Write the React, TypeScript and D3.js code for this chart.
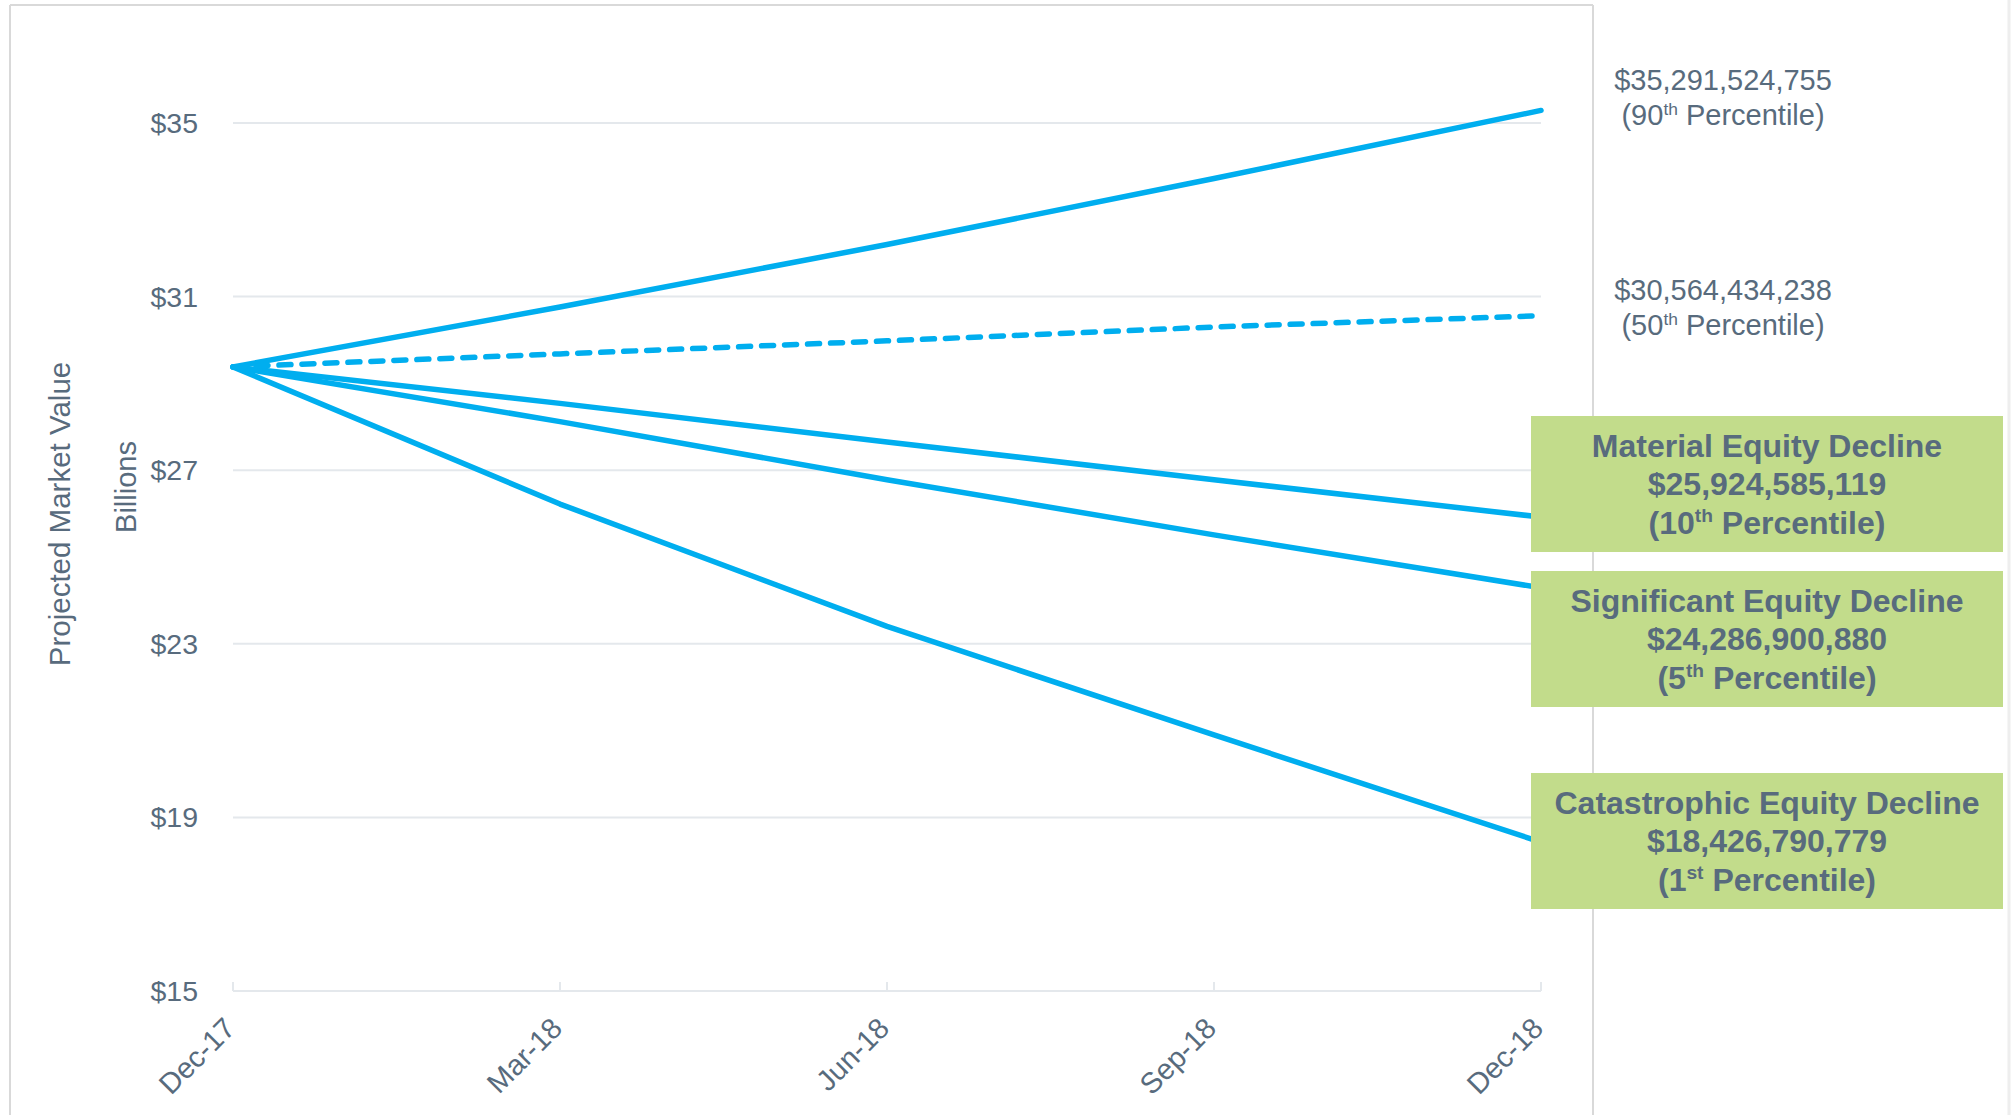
import React from "react";
import * as d3 from "d3";

const categories = ["Dec-17", "Mar-18", "Jun-18", "Sep-18", "Dec-18"];
const p90 = [29.38, 30.76, 32.2, 33.72, 35.29];
const p50 = [29.38, 29.68, 29.98, 30.3, 30.56];
const p10 = [29.38, 28.54, 27.65, 26.78, 25.92];
const p5 = [29.38, 28.12, 26.78, 25.51, 24.29];
const p1 = [29.38, 26.22, 23.4, 20.9, 18.43];
const yTicks = [15, 19, 23, 27, 31, 35];

const plainLabels = [
  { value: "$35,291,524,755", pct: "90", sup: "th" },
  { value: "$30,564,434,238", pct: "50", sup: "th" },
];
const boxLabels = [
  { title: "Material Equity Decline", value: "$25,924,585,119", pct: "10", sup: "th" },
  { title: "Significant Equity Decline", value: "$24,286,900,880", pct: "5", sup: "th" },
  { title: "Catastrophic Equity Decline", value: "$18,426,790,779", pct: "1", sup: "st" },
];

const W = 2011;
const H = 1115;
const FONT = "'Liberation Sans', Arial, Helvetica, sans-serif";
const TEXT = "#586b7d";
const BLUE = "#00aeef";
const GRID = "#e4e8ec";
const FRAME = "#d9d9d9";
const GREEN = "#c2dc8b";

// layout (pixel positions of annotation elements)
const plainLayout = [{ cx: 1723, y: 90 }, { cx: 1723, y: 300 }];
const boxLayout = [
  { x: 1531, y: 416, h: 136 },
  { x: 1531, y: 571, h: 136 },
  { x: 1531, y: 773, h: 136 },
];
const BOX_W = 472;

export default function App() {
  const x = d3.scalePoint<string>().domain(categories).range([233, 1541]);
  const y = d3.scaleLinear().domain([15, 35]).range([991, 123]);
  const line = d3
    .line<number>()
    .x((_, i) => x(categories[i]) as number)
    .y((d) => y(d));

  const solid = [p90, p10, p5, p1];

  const pctText = (pct: string, sup: string, fs: number) => (
    <>
      <tspan>({pct}</tspan>
      <tspan dy={-fs * 0.36} fontSize={fs * 0.6}>
        {sup}
      </tspan>
      <tspan dy={fs * 0.36}> Percentile)</tspan>
    </>
  );

  return (
    <svg
      width={W}
      height={H}
      style={{ position: "absolute", left: 0, top: 0, background: "#fff" }}
      fontFamily={FONT}
    >
      <rect x={0} y={0} width={W} height={H} fill="#fff" />
      {/* frame */}
      <line x1={10} y1={5} x2={10} y2={H} stroke={FRAME} strokeWidth={2} />
      <line x1={10} y1={5} x2={1593} y2={5} stroke={FRAME} strokeWidth={2} />
      <line x1={1593} y1={5} x2={1593} y2={H} stroke={FRAME} strokeWidth={2} />
      <line x1={2009} y1={0} x2={2009} y2={H} stroke="#eeeeee" strokeWidth={3} />

      {/* gridlines */}
      {yTicks.map((t) => (
        <line
          key={t}
          x1={x(categories[0])}
          x2={x(categories[categories.length - 1])}
          y1={y(t)}
          y2={y(t)}
          stroke={GRID}
          strokeWidth={2}
        />
      ))}
      {/* x ticks */}
      {categories.map((c) => (
        <line key={c} x1={x(c)} x2={x(c)} y1={y(15)} y2={y(15) - 9} stroke={GRID} strokeWidth={2} />
      ))}

      {/* y tick labels */}
      {yTicks.map((t) => (
        <text
          key={t}
          x={198}
          y={y(t)}
          dy="0.35em"
          textAnchor="end"
          fontSize={28.5}
          fill={TEXT}
        >
          ${t}
        </text>
      ))}

      {/* x tick labels */}
      {categories.map((c) => (
        <text
          key={c}
          transform={`translate(${(x(c) as number) + 4},${1030}) rotate(-45)`}
          textAnchor="end"
          fontSize={29}
          fill={TEXT}
        >
          {c}
        </text>
      ))}

      {/* axis titles */}
      <text
        transform={`translate(70,514) rotate(-90)`}
        textAnchor="middle"
        fontSize={29.5}
        fill={TEXT}
      >
        Projected Market Value
      </text>
      <text
        transform={`translate(136,487) rotate(-90)`}
        textAnchor="middle"
        fontSize={29}
        fill={TEXT}
      >
        Billions
      </text>

      {/* lines */}
      {solid.map((s, i) => (
        <path
          key={i}
          d={line(s) || ""}
          fill="none"
          stroke={BLUE}
          strokeWidth={5.5}
          strokeLinejoin="round"
          strokeLinecap="round"
        />
      ))}
      <path
        d={line(p50) || ""}
        fill="none"
        stroke={BLUE}
        strokeWidth={5.5}
        strokeDasharray="12 11"
        strokeLinecap="round"
      />

      {/* plain labels */}
      {plainLabels.map((l, i) => (
        <g key={i} fill={TEXT} fontSize={29}>
          <text x={plainLayout[i].cx} y={plainLayout[i].y} textAnchor="middle">
            {l.value}
          </text>
          <text x={plainLayout[i].cx} y={plainLayout[i].y + 35} textAnchor="middle">
            {pctText(l.pct, l.sup, 29)}
          </text>
        </g>
      ))}

      {/* boxes */}
      {boxLabels.map((b, i) => {
        const L = boxLayout[i];
        const cx = L.x + BOX_W / 2;
        const cy = L.y + L.h / 2;
        return (
          <g key={i}>
            <rect x={L.x} y={L.y} width={BOX_W} height={L.h} fill={GREEN} />
            <g fill={TEXT} fontSize={32} fontWeight="bold" textAnchor="middle">
              <text x={cx} y={cy - 38.5 + 11}>
                {b.title}
              </text>
              <text x={cx} y={cy + 11}>
                {b.value}
              </text>
              <text x={cx} y={cy + 38.5 + 11}>
                {pctText(b.pct, b.sup, 32)}
              </text>
            </g>
          </g>
        );
      })}
    </svg>
  );
}
